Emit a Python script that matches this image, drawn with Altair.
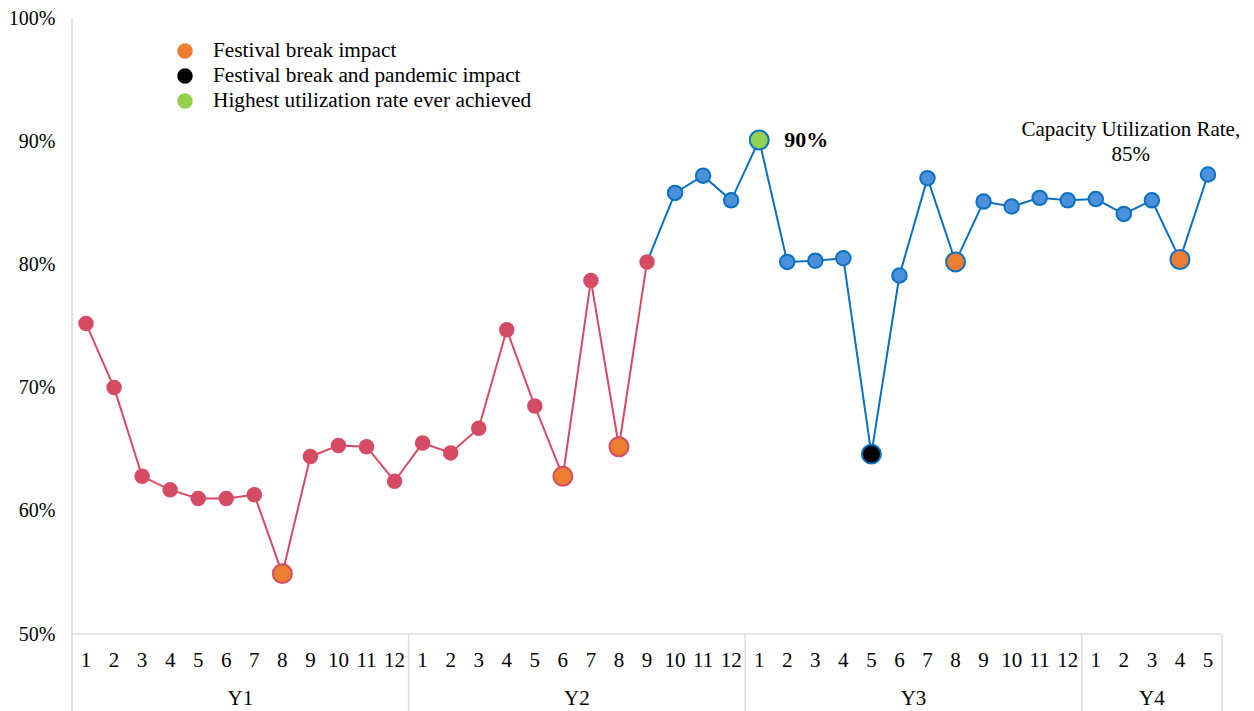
import altair as alt
import pandas as pd

years = ["Y1"] * 12 + ["Y2"] * 12 + ["Y3"] * 12 + ["Y4"] * 5
months = list(range(1, 13)) * 3 + [1, 2, 3, 4, 5]
values = [
    75.2, 70.0, 62.8, 61.7, 61.0, 61.0, 61.3, 54.9, 64.4, 65.3, 65.2, 62.4,
    65.5, 64.7, 66.7, 74.7, 68.5, 62.8, 78.7, 65.2, 80.2, 85.8, 87.2, 85.2,
    90.1, 80.2, 80.3, 80.5, 64.6, 79.1, 87.0, 80.2, 85.1, 84.7, 85.4, 85.2,
    85.3, 84.1, 85.2, 80.4, 87.3,
]
# marker category for highlighted points
special = {7: "orange", 17: "orange", 19: "orange", 31: "orange", 39: "orange",
           28: "black", 24: "green"}
legend_labels = ["Festival break impact", "Festival break and pandemic impact",
                 "Highest utilization rate ever achieved"]
legend_colors = ["#ED7D31", "#000000", "#92D050"]
group_names = ["Y1", "Y2", "Y3", "Y4"]
group_centers = [5.5, 17.5, 29.5, 38.0]
separators = [-0.5, 11.5, 23.5, 35.5, 40.5]

RED = "#D64B64"
BLUE = "#0A70C2"
BLUE_FILL = "#4A90DA"
FONT = "Liberation Serif"

W, H = 1150, 616
n = len(values)
split = 20

df = pd.DataFrame({"idx": list(range(n)), "month": [str(m) for m in months],
                   "year": years, "v": [v / 100 for v in values]})
df["seg"] = ["red" if i <= split else "blue" for i in range(n)]
df["kind"] = [special.get(i, "normal") for i in range(n)]

line_df = pd.concat([
    df[df.idx <= split].assign(series="red"),
    df[df.idx >= split].assign(series="blue"),
])

xs = alt.Scale(domain=[-0.5, n - 0.5], nice=False, zero=False)
ys = alt.Scale(domain=[0.5, 1.0], nice=False, zero=False)

xenc = alt.X("idx:Q", scale=xs, axis=None)
yenc = alt.Y("v:Q", scale=ys, axis=alt.Axis(values=[0.5, 0.6, 0.7, 0.8, 0.9, 1.0], format=".0%",
                                            labelFont=FONT, labelFontSize=20, labelColor="#000",
                                            ticks=False, grid=False, domain=False,
                                            labelPadding=17, title=None))

lines = alt.Chart(line_df).mark_line(strokeWidth=2).encode(
    x=xenc, y=yenc,
    color=alt.Color("series:N", scale=alt.Scale(domain=["red", "blue"], range=[RED, BLUE]), legend=None),
)

red_pts = alt.Chart(df[(df.seg == "red") & (df.kind == "normal")]).mark_circle(
    size=240, opacity=1, color=RED).encode(x=xenc, y=yenc)

blue_pts = alt.Chart(df[(df.seg == "blue") & (df.kind == "normal")]).mark_point(
    filled=True, size=210, opacity=1, fill=BLUE_FILL, stroke=BLUE, strokeWidth=2, shape="circle"
).encode(x=xenc, y=yenc)

fill_scale = alt.Scale(domain=["orange", "black", "green"], range=["#ED7D31", "#000000", "#92D050"])
sp_layers = []
for seg, sc in [("red", RED), ("blue", BLUE)]:
    sp = df[(df.kind != "normal") & (df.seg == seg)]
    sp_layers.append(alt.Chart(sp).mark_point(
        filled=True, size=360, opacity=1, strokeWidth=2, shape="circle", stroke=sc
    ).encode(x=xenc, y=yenc, fill=alt.Fill("kind:N", scale=fill_scale, legend=None)))

# x axis: month labels and group labels
month_text = alt.Chart(df).mark_text(font=FONT, fontSize=21, color="#000", baseline="middle").encode(
    x=xenc, y=alt.value(H + 27), text="month:N")

gdf = pd.DataFrame({"idx": group_centers, "g": group_names})
group_text = alt.Chart(gdf).mark_text(font=FONT, fontSize=21, color="#000", baseline="middle").encode(
    x=xenc, y=alt.value(H + 65), text="g:N")

sdf = pd.DataFrame({"idx": separators})
sep_rules = alt.Chart(sdf).mark_rule(color="#D9DDE3", strokeWidth=1.5).encode(
    x=xenc, y=alt.value(H), y2=alt.value(H + 77))

left_axis = alt.Chart(pd.DataFrame({"idx": [-0.5]})).mark_rule(color="#D9D9D9", strokeWidth=1.5).encode(
    x=xenc, y=alt.value(0), y2=alt.value(H + 77))

bottom_axis = alt.Chart(pd.DataFrame({"idx": [-0.5], "b": [n - 0.5]})).mark_rule(
    color="#D9DDE3", strokeWidth=1.5).encode(
    x=xenc, x2="b:Q", y=alt.value(H))

# legend
leg_layers = []
for i, (lab, col) in enumerate(zip(legend_labels, legend_colors)):
    d = pd.DataFrame({"label": [lab]})
    leg_layers.append(alt.Chart(d).mark_circle(size=240, opacity=1, color=col).encode(
        x=alt.value(113), y=alt.value(33 + 25 * i)))
    leg_layers.append(alt.Chart(d).mark_text(font=FONT, fontSize=21.3, color="#000", align="left",
                                             baseline="middle").encode(
        x=alt.value(141), y=alt.value(33 + 25 * i), text="label:N"))

# annotations
ann1 = alt.Chart(pd.DataFrame({"idx": [24], "v": [0.901], "t": ["90%"]})).mark_text(
    font=FONT, fontSize=22, fontWeight="bold", color="#000", align="left", baseline="middle", dx=25
).encode(x=xenc, y=yenc, text="t:N")

ann2 = alt.Chart(pd.DataFrame({"idx": [37.25, 37.25], "v": [0.909, 0.889],
                               "t": ["Capacity Utilization Rate,", "85%"]})).mark_text(
    font=FONT, fontSize=21, color="#000", align="center", baseline="middle"
).encode(x=xenc, y=yenc, text="t:N")

chart = alt.layer(
    left_axis, bottom_axis, sep_rules, lines, red_pts, blue_pts, *sp_layers,
    month_text, group_text, *leg_layers, ann1, ann2,
).properties(
    width=W, height=H,
    autosize=alt.AutoSizeParams(type="none"),
    padding={"left": 72, "top": 18, "right": 32, "bottom": 77},
    background="white",
).configure_view(stroke=None)

chart.save("out.html", embed_options={"renderer": "svg", "actions": False})
